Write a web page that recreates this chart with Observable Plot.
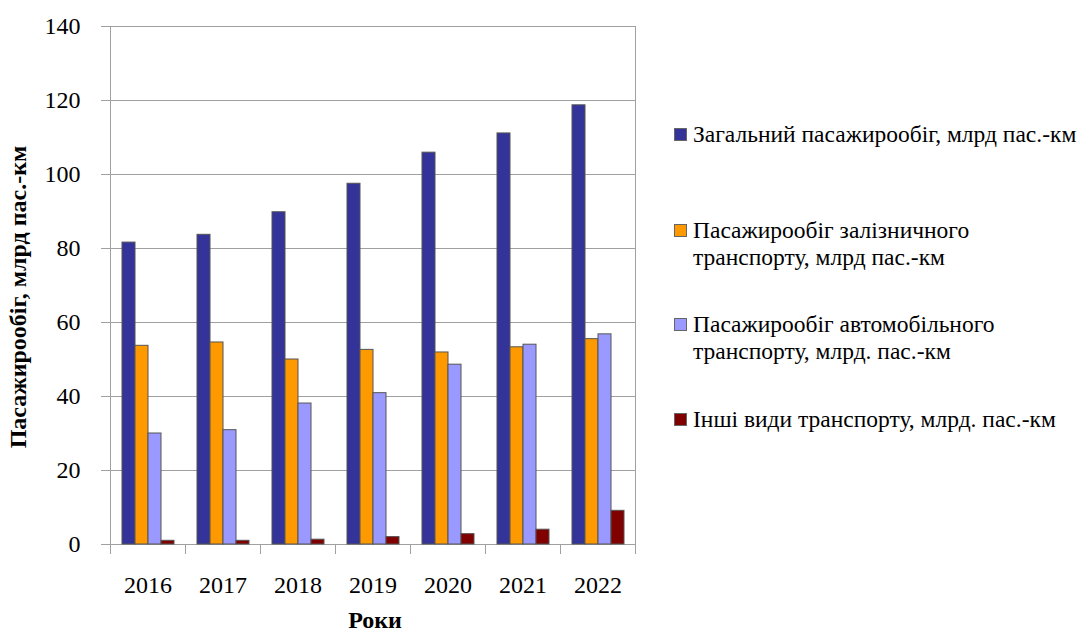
<!DOCTYPE html>
<html>
<head>
<meta charset="utf-8">
<script src="https://cdn.jsdelivr.net/npm/d3@7"></script>
<script src="https://cdn.jsdelivr.net/npm/@observablehq/plot@0.6"></script>
<style>
  html, body { margin: 0; padding: 0; background: #fff; }
  body, #wrap, .leg, .ytitle, .xtitle { font-family: 'Liberation Serif', 'Times New Roman', serif; }
  #wrap { position: relative; width: 1089px; height: 632px; overflow: hidden; background: #fff; }
  #chart { position: absolute; left: 0; top: 0; }
  .ytitle { position: absolute; left: 18px; top: 297px; transform: translate(-50%, -50%) rotate(-90deg);
            white-space: nowrap; font-weight: bold; font-size: 24px; color: #000; line-height: 1; }
  .xtitle { position: absolute; left: 375px; top: 620px; transform: translate(-50%, -50%);
            white-space: nowrap; font-weight: bold; font-size: 24px; color: #000; line-height: 1; }
  .leg { position: absolute; left: 674px; font-size: 23.5px; line-height: 27px; color: #000; white-space: nowrap; }
  .leg .sw { position: absolute; left: 0; top: 7px; width: 13px; height: 13px; border: 1px solid #666; box-sizing: border-box; }
  .leg .tx { position: absolute; left: 19px; top: 0; }
</style>
</head>
<body>
<div id="wrap">
  <div id="chart"></div>
  <div id="legend"></div>
  <div class="ytitle" id="ytitle"></div>
  <div class="xtitle" id="xtitle"></div>
</div>
<script>
// ---- data ----
const years = ["2016", "2017", "2018", "2019", "2020", "2021", "2022"];
const seriesNames = [
  "Загальний пасажирообіг, млрд пас.-км",
  "Пасажирообіг залізничного транспорту, млрд пас.-км",
  "Пасажирообіг автомобільного транспорту, млрд. пас.-км",
  "Інші види транспорту, млрд. пас.-км"
];
const legendLines = [
  ["Загальний пасажирообіг, млрд пас.-км"],
  ["Пасажирообіг залізничного", "транспорту, млрд пас.-км"],
  ["Пасажирообіг автомобільного", "транспорту, млрд. пас.-км"],
  ["Інші види транспорту, млрд. пас.-км"]
];
const totalValues = [81.6, 83.7, 89.8, 97.5, 105.9, 111.1, 118.7];
const railValues  = [53.7, 54.6, 50.0, 52.6, 51.9, 53.3, 55.5];
const roadValues  = [30.0, 30.9, 38.1, 40.9, 48.6, 54.0, 56.8];
const otherValues = [1.0, 1.0, 1.3, 2.0, 2.8, 4.0, 9.1];
const seriesColors = ["#333399", "#FF9900", "#9999FF", "#800000"];
const yTicks = [0, 20, 40, 60, 80, 100, 120, 140];
const yTitle = "Пасажирообіг, млрд пас.-км";
const xTitle = "Роки";

// ---- table for Plot ----
const valueLists = [totalValues, railValues, roadValues, otherValues];
const data = [];
years.forEach((yr, i) => {
  seriesNames.forEach((s, j) => data.push({year: yr, series: s, value: valueLists[j][i]}));
});

const W = 645, H = 632, mL = 107, mR = 8, mT = 26, mB = 88;
const innerH = H - mT - mB;
const gridColor = "#a0a0a0";
const serif = "Liberation Serif";

const chart = Plot.plot({
  width: W, height: H,
  marginLeft: mL, marginRight: mR, marginTop: mT, marginBottom: mB,
  style: {fontFamily: serif, fontSize: "24px", background: "#fff", color: "#000"},
  fx: {domain: years, padding: 0, label: null},
  x: {domain: seriesNames, paddingInner: 0, paddingOuter: 0.7, axis: null},
  y: {domain: [0, 140], label: null},
  color: {domain: seriesNames, range: seriesColors},
  marks: [
    Plot.gridY(yTicks, {stroke: gridColor, strokeOpacity: 1, strokeWidth: 1}),
    Plot.ruleY([0], {stroke: gridColor}),
    Plot.frame({anchor: "left", stroke: gridColor, insetTop: innerH, insetBottom: -9}),
    Plot.frame({anchor: "left", fx: "2016", stroke: gridColor, insetBottom: -9}),
    Plot.frame({anchor: "right", fx: "2022", stroke: gridColor, insetBottom: -9}),
    Plot.barY(data, {fx: "year", x: "series", y: "value", fill: "series", stroke: "#555", strokeWidth: 1}),
    Plot.axisY({ticks: yTicks, tickSize: 9, tickPadding: 21, stroke: gridColor, fill: "#000", fontSize: 24, fontFamily: serif, label: null}),
    Plot.axisFx({anchor: "bottom", tickSize: 0, tickPadding: 31, fontSize: 24, fontFamily: serif, fill: "#000", label: null})
  ]
});
chart.removeAttribute("font-family");
document.getElementById("chart").appendChild(chart);

// ---- titles ----
document.getElementById("ytitle").textContent = yTitle;
document.getElementById("xtitle").textContent = xTitle;

// ---- legend ----
const legendTops = [121, 217, 311, 406];
const legend = document.getElementById("legend");
legendLines.forEach((lines, i) => {
  const item = document.createElement("div");
  item.className = "leg";
  item.style.top = legendTops[i] + "px";
  const sw = document.createElement("div");
  sw.className = "sw";
  sw.style.background = seriesColors[i];
  item.appendChild(sw);
  const tx = document.createElement("div");
  tx.className = "tx";
  lines.forEach((l, k) => {
    if (k) tx.appendChild(document.createElement("br"));
    tx.appendChild(document.createTextNode(l));
  });
  item.appendChild(tx);
  legend.appendChild(item);
});
</script>
</body>
</html>
